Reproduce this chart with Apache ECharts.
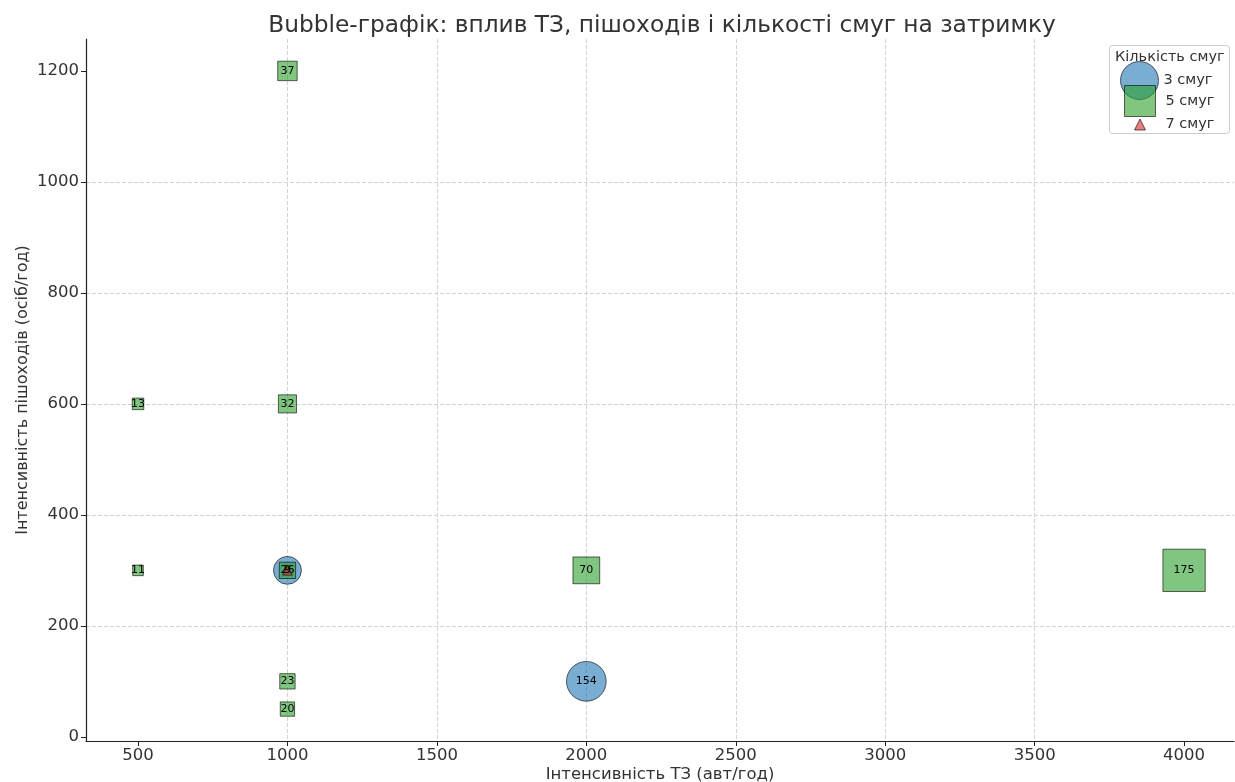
<!DOCTYPE html>
<html>
<head>
<meta charset="utf-8">
<script src="https://cdn.jsdelivr.net/npm/echarts@6/dist/echarts.min.js"></script>
<style>html,body{margin:0;padding:0;background:#fff}#c{width:1235px;height:782px}</style>
</head>
<body>
<div id="c"></div>
<script>
// ---- data ----
const lanes3X = [1000, 2000];
const lanes3Y = [300, 100];
const lanes3Delay = [76, 154];

const lanes5X = [1000, 500, 1000, 500, 1000, 2000, 4000, 1000, 1000];
const lanes5Y = [1200, 600, 600, 300, 300, 300, 300, 100, 50];
const lanes5Delay = [37, 13, 32, 11, 26, 70, 175, 23, 20];

const lanes7X = [1000];
const lanes7Y = [300];
const lanes7Delay = [9];

const seriesNames = ['3 смуг', '5 смуг', '7 смуг'];
const xTicks = [500, 1000, 1500, 2000, 2500, 3000, 3500, 4000];
const yTicks = [0, 200, 400, 600, 800, 1000, 1200];

const titleText = 'Bubble-графік: вплив ТЗ, пішоходів і кількості смуг на затримку';
const xName = 'Інтенсивність ТЗ (авт/год)';
const yName = 'Інтенсивність пішоходів (осіб/год)';
const legendTitle = 'Кількість смуг';

// ---- build ----
const FONT = 'DejaVu Sans';
function zip(xs, ys, ds) { return xs.map((x, i) => [x, ys[i], ds[i]]); }
const sizeOf = v => 3.2 * Math.sqrt(v[2]);
const labelCfg = { show: true, position: 'inside', formatter: p => String(p.value[2]), color: '#000', fontSize: 11, fontFamily: FONT };

function mkSeries(name, data, symbol, fill, z) {
  return {
    name, type: 'scatter', data, symbol, symbolSize: sizeOf, z,
    itemStyle: { color: fill, borderColor: 'rgba(0,0,0,0.6)', borderWidth: 1, opacity: 1 },
    label: labelCfg,
    emphasis: { disabled: true },
    animation: false
  };
}

const c3 = 'rgba(31,119,180,0.6)';
const c5 = 'rgba(44,160,44,0.6)';
const c7 = 'rgba(214,39,40,0.6)';

function legendItem(name, icon, w, h, left, top, pad, color) {
  return {
    data: [{ name, icon, itemStyle: { color, borderColor: 'rgba(0,0,0,0.6)', borderWidth: 1 } }],
    left, top, itemWidth: w, itemHeight: h, padding: 0, selectedMode: false,
    textStyle: { fontFamily: FONT, fontSize: 14.5, color: '#333', padding: [0, 0, 0, pad] }
  };
}

const axisFmt = v => String(v);

const chart = echarts.init(document.getElementById('c'), null, { renderer: 'canvas' });
chart.setOption({
  backgroundColor: '#fff',
  animation: false,
  title: {
    text: titleText, left: 657, top: 9, textAlign: 'center',
    textStyle: { fontFamily: FONT, fontSize: 23.3, fontWeight: 'normal', color: '#333' }
  },
  grid: { left: 86, right: 1, top: 39, bottom: 41, containLabel: false, outerBoundsMode: 'none' },
  xAxis: {
    type: 'value', min: 326, max: 4167, splitNumber: 8,
    name: xName, nameLocation: 'middle', nameGap: 25, nameMoveOverlap: false,
    nameTextStyle: { fontFamily: FONT, fontSize: 16.5, color: '#333' },
    axisLine: { show: true, onZero: false, lineStyle: { color: '#222', width: 1.2 } },
    axisTick: { show: true, inside: false, length: 5, customValues: xTicks, lineStyle: { color: '#222' } },
    axisLabel: { customValues: xTicks, formatter: axisFmt, margin: 6, fontFamily: FONT, fontSize: 16.5, color: '#333' },
    splitLine: { show: true, showMinLine: false, showMaxLine: false, lineStyle: { color: '#c8c8c8', type: [4, 2], width: 0.8 } }
  },
  yAxis: {
    type: 'value', min: -7.5, max: 1257.5, splitNumber: 6,
    name: yName, nameLocation: 'middle', nameGap: 55, nameMoveOverlap: false,
    nameTextStyle: { fontFamily: FONT, fontSize: 16, color: '#333' },
    axisLine: { show: true, onZero: false, lineStyle: { color: '#222', width: 1.2 } },
    axisTick: { show: true, inside: false, length: 5, customValues: yTicks, lineStyle: { color: '#222' } },
    axisLabel: { customValues: yTicks, formatter: axisFmt, margin: 7, fontFamily: FONT, fontSize: 16.5, color: '#333' },
    splitLine: { show: true, showMinLine: false, showMaxLine: false, lineStyle: { color: '#c8c8c8', type: [4, 2], width: 0.8 } }
  },
  graphic: [
    { type: 'rect', left: 1109, top: 45, shape: { width: 120, height: 88, r: 3 },
      style: { fill: 'rgba(255,255,255,0.8)', stroke: '#cccccc', lineWidth: 1 }, z: 1 },
    { type: 'text', left: 1115, top: 50, style: { text: legendTitle, font: '14.5px "DejaVu Sans"', fill: '#333' }, z: 1 }
  ],
  legend: [
    legendItem(seriesNames[0], 'circle', 38, 38, 1120, 61, 0, c3),
    legendItem(seriesNames[1], 'rect', 31, 31, 1124, 85, 5, c5),
    legendItem(seriesNames[2], 'triangle', 11, 11, 1134, 117, 15, c7)
  ],
  series: [
    mkSeries(seriesNames[0], zip(lanes3X, lanes3Y, lanes3Delay), 'circle', c3, 2),
    mkSeries(seriesNames[1], zip(lanes5X, lanes5Y, lanes5Delay), 'rect', c5, 3),
    mkSeries(seriesNames[2], zip(lanes7X, lanes7Y, lanes7Delay), 'triangle', c7, 4)
  ]
});
</script>
</body>
</html>
